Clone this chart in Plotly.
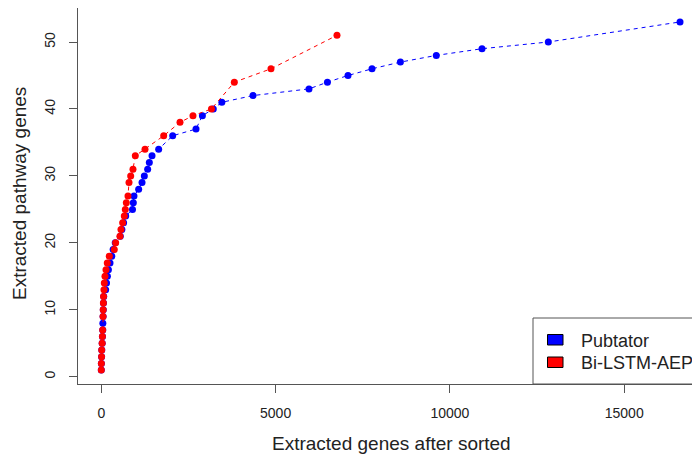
import plotly.graph_objects as go

# Pubtator (blue)
pub_y = [1, 2, 3, 4, 5, 6, 7, 8, 9, 10, 11, 12, 13, 14, 15, 16, 17, 18, 19, 20,
         21, 22, 23, 24, 25, 26, 27, 28, 29, 30, 31, 32, 33, 34, 36, 37, 39, 40,
         41, 42, 43, 44, 45, 46, 47, 48, 49, 50, 53]
pub_x = [0, 3, 8, 14, 26, 34, 42, 45, 52, 57, 63, 70, 125, 150, 175, 205, 250, 300, 340, 400,
         545, 590, 640, 700, 895, 919, 938, 1072, 1168, 1235, 1330, 1378, 1455, 1646, 2048, 2717, 2900, 3213,
         3458, 4352, 5958, 6487, 7077, 7766, 8580, 9610, 10921, 12823, 16601]

# Bi-LSTM-AEP (red)
aep_y = [1, 2, 3, 4, 5, 6, 7, 9, 10, 11, 12, 13, 14, 15, 16, 17, 18, 19, 20, 21,
         22, 23, 24, 25, 26, 27, 29, 30, 31, 33, 34, 36, 38, 39, 40, 44, 46, 51]
aep_x = [0, 2, 8, 12, 25, 32, 40, 50, 55, 60, 65, 77, 86, 106, 135, 172, 230, 373, 412, 536,
         565, 613, 660, 689, 718, 766, 795, 843, 909, 976, 1254, 1790, 2258, 2630, 3160, 3816, 4868, 6761]

series_names = ["Pubtator", "Bi-LSTM-AEP"]
series_colors = ["#0000FF", "#FF0000"]
x_ticks = [0, 5000, 10000, 15000]
y_ticks = [0, 10, 20, 30, 40, 50]

FONT = "Liberation Sans, Arial, sans-serif"
TXT = "#222222"
LINE = "#555555"

fig = go.Figure()
for xs, ys, name, col in [(pub_x, pub_y, series_names[0], series_colors[0]),
                          (aep_x, aep_y, series_names[1], series_colors[1])]:
    fig.add_trace(go.Scatter(
        x=xs, y=ys, mode="lines+markers", name=name,
        line=dict(color=col, width=1, dash="4px,4px"),
        marker=dict(color=col, size=7, line=dict(width=0)),
        showlegend=False, cliponaxis=False,
    ))

# page body has an 8px margin, so the figure is placed at (8, 8)
fig.update_layout(
    width=692, height=446,
    margin=dict(l=70, r=0, t=0, b=70),
    paper_bgcolor="white", plot_bgcolor="white",
    font=dict(family=FONT, color=TXT, size=14),
)
fig.update_xaxes(
    range=[-668, 17174], tickvals=x_ticks, ticktext=[str(v) for v in x_ticks],
    showgrid=False, zeroline=False, showline=True, linecolor=LINE, linewidth=1,
    mirror=True, ticks="outside", ticklen=8, tickcolor=LINE,
    tickfont=dict(size=14, color=TXT), ticklabelstandoff=8,
)
fig.update_yaxes(
    range=[-1.08, 55.08], tickvals=y_ticks, ticktext=[str(v) for v in y_ticks],
    showgrid=False, zeroline=False, showline=True, linecolor=LINE, linewidth=1,
    ticks="outside", ticklen=8, tickcolor=LINE, tickangle=-90,
    tickfont=dict(size=14, color=TXT), ticklabelstandoff=8,
)

# helpers: page pixel -> paper coords (plot area spans page x 78..700, y 8..384)
def px(xp):
    return (xp - 78) / 622

def py(yp):
    return (384 - yp) / 376

# axis titles
fig.add_annotation(text="Extracted genes after sorted", xref="paper", yref="paper",
                   x=px(392), y=py(443), xanchor="center", yanchor="middle",
                   showarrow=False, font=dict(size=19, color=TXT))
fig.add_annotation(text="Extracted pathway genes", xref="paper", yref="paper",
                   x=px(19), y=py(194), xanchor="center", yanchor="middle",
                   textangle=-90, showarrow=False, font=dict(size=19, color=TXT))

# legend box (bottom right, running off the right edge)
fig.add_shape(type="rect", xref="paper", yref="paper",
              x0=px(533), x1=px(720), y0=py(384), y1=py(318),
              line=dict(color=LINE, width=1), fillcolor="white")
for i, (name, col) in enumerate(zip(series_names, series_colors)):
    top = 334.5 + i * 22.5
    fig.add_shape(type="rect", xref="paper", yref="paper",
                  x0=px(547.5), x1=px(563), y0=py(top + 10.5), y1=py(top),
                  line=dict(color="#000000", width=1), fillcolor=col)
    fig.add_annotation(text=name, xref="paper", yref="paper",
                       x=px(579), y=py(top + 6), xanchor="left", yanchor="middle",
                       showarrow=False, font=dict(size=18, color=TXT))

fig.write_html("out.html")
